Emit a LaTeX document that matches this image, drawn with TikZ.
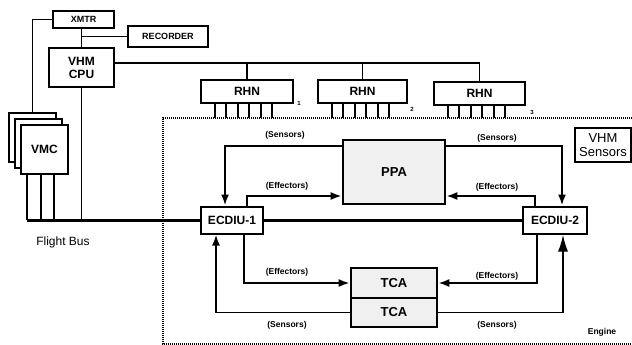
\documentclass[tikz,border=0pt]{standalone}
\usepackage{fontspec}
\setmainfont{Liberation Sans}
\usetikzlibrary{arrows.meta, positioning, calc}
\tikzset{
    blk/.style={
        draw,
        line width=2pt,
        fill=white,
        font=\bfseries\fontsize{12}{13}\selectfont,
        align=center,
        inner sep=1pt
    },
    smallblk/.style={
        blk,
        font=\bfseries\fontsize{9}{10}\selectfont
    },
    actblk/.style={
        blk,
        line width=2.6pt,
        fill=gray!12,
        font=\bfseries\fontsize{13}{14}\selectfont
    },
    lnk/.style={
        line width=1.9pt
    },
    arr/.style={
        lnk,
        -{Latex[length=11pt,width=8pt]}
    },
    bigarr/.style={
        lnk,
        -{Latex[length=17pt,width=10pt]}
    },
    bus/.style={
        line width=3pt
    },
    lbl/.style={
        font=\bfseries\fontsize{8.5}{9}\selectfont,
        inner sep=1pt
    },
    tag/.style={
        font=\bfseries\fontsize{6}{6}\selectfont,
        inner sep=0pt
    }
}

\begin{document}
\begin{tikzpicture}[x=1pt, y=-1pt]
        \useasboundingbox (0,0) rectangle (632,345);

        % Engine boundary
        \coordinate (engtop) at (163,118);
        \draw[line width=1.4pt, dash pattern=on 1pt off 1pt] (632,118) -- (engtop) -- (163,344) -- (632,344);

        % Vehicle side
        \node[smallblk, minimum width=61, minimum height=17] (xmtr) at (83.5,19.5) {XMTR};
        \node[smallblk, minimum width=80, minimum height=21] (rec) at (168,36.5) {RECORDER};
        \node[blk, minimum width=65, minimum height=39] (cpu) at (81.5,67.5) {VHM\\CPU};
        \node[blk, minimum width=47, minimum height=49] (vmcb) at (32.5,137.5) {};
        \node[blk, minimum width=47, minimum height=49] (vmcm) at (38.5,143.5) {};
        \node[blk, minimum width=47, minimum height=49] (vmcf) at (44.5,149.5) {VMC};
        \node[font=\fontsize{12}{13}\selectfont] (fbus) at (63,242) {Flight Bus};

        % Remote hub nodes
        \node[blk, minimum width=92, minimum height=23] (rhn1) at (247,91.5) {RHN};
        \node[blk, minimum width=89, minimum height=23] (rhn2) at (362.5,91.5) {RHN};
        \node[blk, minimum width=91, minimum height=23] (rhn3) at (479.5,93.5) {RHN};
        \node[tag] (n1) at (299,103) {1};
        \node[tag] (n2) at (412,109) {2};
        \node[tag] (n3) at (532,112) {3};

        % Engine side
        \node[blk, font=\fontsize{13}{14}\selectfont, minimum width=56, minimum height=34] (vsens) at (603,145) {VHM\\Sensors};
        \node[actblk, minimum width=102, minimum height=64] (ppa) at (394,172) {PPA};
        \node[blk, minimum width=62, minimum height=27] (ecd1) at (232,220) {ECDIU-1};
        \node[blk, minimum width=64, minimum height=27] (ecd2) at (555,220) {ECDIU-2};
        \node[actblk, minimum width=86, minimum height=30] (tca1) at (394,283) {TCA};
        \node[actblk, minimum width=86, minimum height=29] (tca2) at (394,312.5) {TCA};
        \node[lbl] (eng) at (602,332) {Engine};

        % Vehicle links
        \draw[lnk] (cpu.north) -- (cpu.north |- xmtr.south);
        \draw[lnk] (cpu.north |- rec.west) -- (rec.west);
        \draw[lnk] (xmtr.west) -| (vmcb.north);
        \coordinate (hub) at ([yshift=4.5]cpu.east);
        \draw[lnk] (hub) -| (rhn3.north);
        \draw[lnk] (hub -| rhn1.north) -- (rhn1.north);
        \draw[lnk] (hub -| rhn2.north) -- (rhn2.north);
        \foreach \n in {rhn1, rhn2, rhn3}
            \foreach \i in {0,...,5}
                \draw[lnk] ([xshift=15+11.4*\i]\n.south west) -- ([xshift=15+11.4*\i]\n.south west |- engtop);

        % Flight bus
        \coordinate (busL) at ([xshift=7]vmcf.south west |- ecd1.west);
        \foreach \dx in {7,21,34}
            \draw[lnk] ([xshift=\dx]vmcf.south west) -- ([xshift=\dx]vmcf.south west |- ecd1.west);
        \draw[lnk] (cpu.south) -- (cpu.south |- ecd1.west);
        \draw[bus] (busL) -- (ecd1.west);
        \draw[bus] (ecd1.east) -- (ecd2.west);

        % PPA loops
        \draw[arr] ([yshift=26]ppa.west) -| ([xshift=-7]ecd1.north);
        \draw[arr] ([xshift=15]ecd1.north) |- ([yshift=-24]ppa.west);
        \draw[arr] ([yshift=26]ppa.east) -| ([xshift=7]ecd2.north);
        \draw[arr] ([xshift=-20]ecd2.north) |- ([yshift=-24]ppa.east);
        \node[lbl] (s1) at (285,135) {(Sensors)};
        \node[lbl] (e1) at (287,186) {(Effectors)};
        \node[lbl] (s2) at (497,138) {(Sensors)};
        \node[lbl] (e2) at (497,187) {(Effectors)};

        % TCA loops
        \draw[arr] ([xshift=12]ecd1.south) |- (tca1.west);
        \draw[arr] (tca2.west) -| ([xshift=-16]ecd1.south);
        \draw[arr] ([xshift=-18]ecd2.south) |- (tca1.east);
        \draw[bigarr] (tca2.east) -| ([xshift=8]ecd2.south);
        \node[lbl] (e3) at (287,272) {(Effectors)};
        \node[lbl] (s3) at (287,325) {(Sensors)};
        \node[lbl] (e4) at (497,276) {(Effectors)};
        \node[lbl] (s4) at (497,325) {(Sensors)};
    \end{tikzpicture}
\end{document}
